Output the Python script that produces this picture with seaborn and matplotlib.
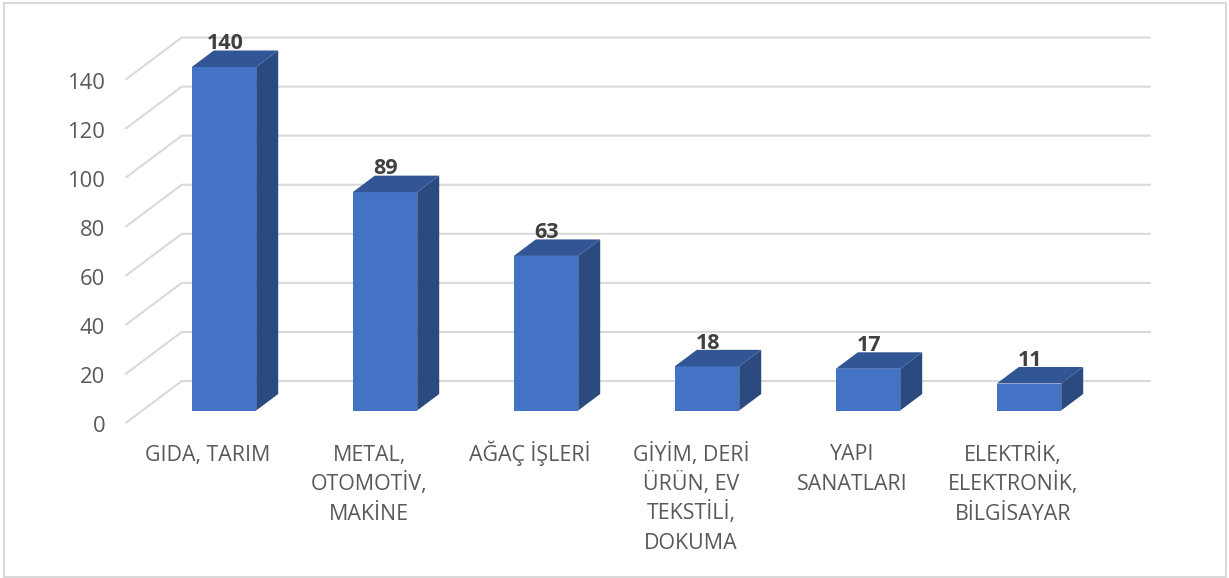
import pandas as pd
import matplotlib.pyplot as plt
import seaborn as sns

categories = ["GIDA, TARIM", "METAL,\nOTOMOTİV,\nMAKİNE", "AĞAÇ İŞLERİ",
              "GİYİM, DERİ\nÜRÜN, EV\nTEKSTİLİ,\nDOKUMA", "YAPI\nSANATLARI",
              "ELEKTRİK,\nELEKTRONİK,\nBİLGİSAYAR"]
values = [140, 89, 63, 18, 17, 11]
y_ticks = [0, 20, 40, 60, 80, 100, 120, 140]

FRONT = "#4472C4"
TOP = "#325596"
SIDE = "#2B4A80"
GRID = "#D9D9D9"
TEXT = "#595959"

plt.rcParams["font.family"] = ["Open Sans", "DejaVu Sans"]

W, H = 1229, 578
step_px = 161.0    # px between bars
unit_px = 2.4536   # px per value unit
x0_px, y0_px = 224.0, 410.5
bar_w = 0.4

# 3d offsets, in data units
dx_bar = 22 / step_px
dy_bar = 16.5 / unit_px
wall_dx = 55.7 / step_px
wall_left = (126 - x0_px) / step_px
wall_right = (1150 - x0_px) / step_px
floor_front = -5.0
floor_back = 12.0

df = pd.DataFrame({"cat": categories, "val": values})

fig = plt.figure(figsize=(W / 100, H / 100), dpi=100)
ax = fig.add_axes([4 / W, 1 - 577 / H, 1222 / W, 574 / H])

for v in y_ticks:
    ax.plot([wall_left, wall_left + wall_dx, wall_right],
            [v + floor_front, v + floor_back, v + floor_back],
            color=GRID, lw=1.5, zorder=1, solid_capstyle="round")
    ax.text(wall_left - 21 / step_px, v + floor_front - 1.6, str(v), ha="right", va="center",
            fontsize=15.8, color=TEXT)

sns.barplot(data=df, x="cat", y="val", color=FRONT, saturation=1, width=bar_w,
            ax=ax, zorder=3)

for i, v in enumerate(values):
    l, r = i - bar_w / 2, i + bar_w / 2
    ax.fill([r, r + dx_bar, r + dx_bar, r], [0, dy_bar, v + dy_bar, v], color=SIDE, lw=0, zorder=3)
    ax.fill([l, l + dx_bar, r + dx_bar, r], [v, v + dy_bar, v + dy_bar, v], color=TOP, lw=0, zorder=3)
    ax.text(i + 1 / step_px, v + 9.5, str(v), ha="center", va="center", fontsize=15.5,
            fontweight="bold", color="#404040", zorder=4)
    # one text per line so every first line sits on the same baseline
    for j, line in enumerate(categories[i].split("\n")):
        ax.text(i - 16 / step_px, (y0_px - 460.5 - j * 29.5) / unit_px, line, ha="center",
                va="baseline", fontsize=15.4, color=TEXT)

ax.set_xlim((4 - x0_px) / step_px, (1226 - x0_px) / step_px)
ax.set_ylim((y0_px - 577) / unit_px, (y0_px - 3) / unit_px)
ax.set_xlabel("")
ax.set_ylabel("")
ax.set_xticks([])
ax.set_yticks([])
for s in ax.spines.values():
    s.set_color(GRID)
    s.set_linewidth(1.5)

fig.savefig("out.png", dpi=100)
